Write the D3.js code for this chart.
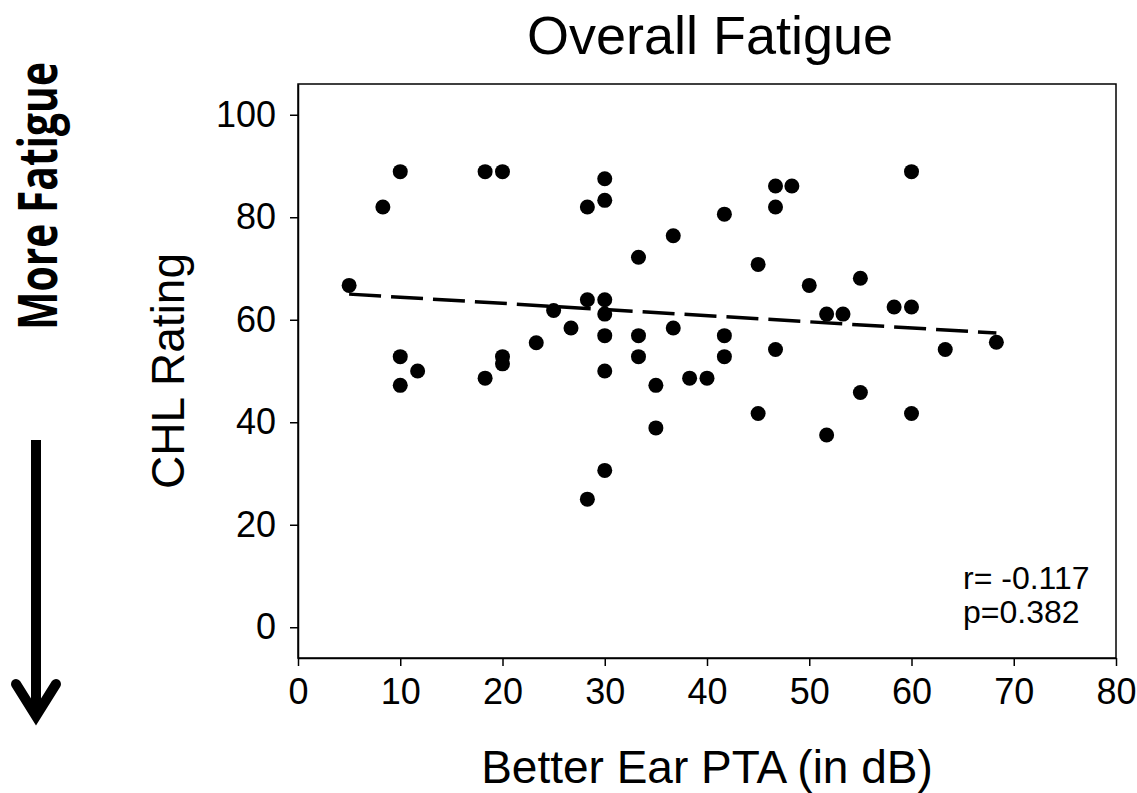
<!DOCTYPE html>
<html>
  <head>
    <meta charset="utf-8">
    <title>Overall Fatigue</title>
    <script src="https://d3js.org/d3.v7.min.js"></script>
    <style>
      body { margin: 0; background: #fff; }
      svg { display: block; }
      text { font-family: "Liberation Sans", Arial, sans-serif; fill: #000; }
      .axis path, .axis line { stroke: #000; stroke-width: 1.5; }
      .axis text { font-size: 36px; }
    </style>
  </head>
  <body>
    <script type="text/javascript">
    // better ear PTA (dB) and CHL rating for each participant
    var pta = [5, 8.3, 10, 10, 10, 11.7, 18.3, 18.3, 20, 20, 20, 23.3, 25, 26.7, 28.3, 28.3, 28.3,
               30, 30, 30, 30, 30, 30, 30, 33.3, 33.3, 33.3, 35, 35, 36.7, 36.7, 38.3, 40,
               41.7, 41.7, 41.7, 45, 45, 46.7, 46.7, 46.7, 48.3, 50, 51.7, 51.7, 53.3, 55, 55,
               58.3, 60, 60, 60, 63.3, 68.3];
    var chl = [66.7, 82.0, 88.9, 52.8, 47.2, 50.0, 88.9, 48.6, 88.9, 52.8, 51.4, 55.5, 61.8, 58.4, 82.0, 63.9, 25.0,
               87.5, 83.3, 63.9, 61.1, 56.9, 50.0, 30.6, 72.2, 56.9, 52.8, 47.2, 38.9, 76.4, 58.4, 48.6, 48.6,
               80.6, 56.9, 52.8, 70.8, 41.7, 86.1, 82.0, 54.2, 86.1, 66.7, 61.1, 37.5, 61.1, 68.1, 45.8,
               62.5, 88.9, 62.5, 41.7, 54.2, 55.6];

    // regression line end points
    var fitX = [5, 68.3];
    var fitY = [65.0, 57.4];

    var xTicks = [0, 10, 20, 30, 40, 50, 60, 70, 80];
    var yTicks = [0, 20, 40, 60, 80, 100];

    var points = pta.map(function(d, i) { return {x: d, y: chl[i]}; });
    var fit = fitX.map(function(d, i) { return {x: d, y: fitY[i]}; });

    var W = 1137, H = 793;
    var plot = {left: 298, right: 1116, top: 84, bottom: 658};

    var x = d3.scaleLinear().domain([0, 80]).range([plot.left, plot.right]);
    var y = d3.scaleLinear().domain([-6, 106]).range([plot.bottom, plot.top]);

    var svg = d3.select("body").append("svg")
        .attr("width", W)
        .attr("height", H);

    // frame
    svg.append("rect")
        .attr("x", plot.left)
        .attr("y", plot.top)
        .attr("width", plot.right - plot.left)
        .attr("height", plot.bottom - plot.top)
        .attr("fill", "none")
        .attr("stroke", "#000")
        .attr("stroke-width", 1.5);

    // x axis
    svg.append("g")
        .attr("class", "axis")
        .attr("transform", "translate(0," + plot.bottom + ")")
        .call(d3.axisBottom(x)
            .tickValues(xTicks)
            .tickSize(8)
            .tickSizeOuter(0)
            .tickPadding(12)
          );

    // y axis
    svg.append("g")
        .attr("class", "axis")
        .attr("transform", "translate(" + plot.left + ",0)")
        .call(d3.axisLeft(y)
            .tickValues(yTicks)
            .tickSize(8)
            .tickSizeOuter(0)
            .tickPadding(14)
          );

    // dashed trend line
    var line = d3.line()
        .x(function(d) { return x(d.x); })
        .y(function(d) { return y(d.y); });

    svg.append("path")
        .datum(fit)
        .attr("d", line)
        .attr("fill", "none")
        .attr("stroke", "#000")
        .attr("stroke-width", 3.5)
        .attr("stroke-dasharray", "32,10");

    // dots
    svg.append("g")
      .selectAll("circle")
      .data(points)
      .enter()
      .append("circle")
        .attr("cx", function(d) { return x(d.x); })
        .attr("cy", function(d) { return y(d.y); })
        .attr("r", 7.5)
        .attr("fill", "#000");

    // stats
    svg.append("text")
        .attr("x", 963)
        .attr("y", 589)
        .style("font-size", "32px")
        .text("r= -0.117");
    svg.append("text")
        .attr("x", 963)
        .attr("y", 623)
        .style("font-size", "32px")
        .text("p=0.382");

    // title
    svg.append("text")
        .attr("x", 710)
        .attr("y", 54)
        .style("text-anchor", "middle")
        .style("font-size", "54px")
        .text("Overall Fatigue");

    // axis labels
    svg.append("text")
        .attr("x", 707)
        .attr("y", 783)
        .style("text-anchor", "middle")
        .style("font-size", "46px")
        .text("Better Ear PTA (in dB)");

    svg.append("text")
        .attr("transform", "translate(184," + y(50) + ") rotate(-90)")
        .style("text-anchor", "middle")
        .style("font-size", "46px")
        .text("CHL Rating");

    // side note with arrow
    svg.append("text")
        .attr("transform", "translate(57,196) rotate(-90)")
        .style("text-anchor", "middle")
        .style("font-family", "'Open Sans', sans-serif")
        .style("font-weight", "700")
        .style("font-size", "53px")
        .attr("textLength", 268)
        .attr("lengthAdjust", "spacingAndGlyphs")
        .text("More Fatigue");

    svg.append("line")
        .attr("x1", 36).attr("y1", 440)
        .attr("x2", 36).attr("y2", 716)
        .attr("stroke", "#000")
        .attr("stroke-width", 10);

    svg.append("path")
        .attr("d", "M16,684 L36,716 L56,684")
        .attr("fill", "none")
        .attr("stroke", "#000")
        .attr("stroke-width", 10)
        .attr("stroke-linecap", "round")
        .attr("stroke-linejoin", "miter");
    </script>
  </body>
</html>
